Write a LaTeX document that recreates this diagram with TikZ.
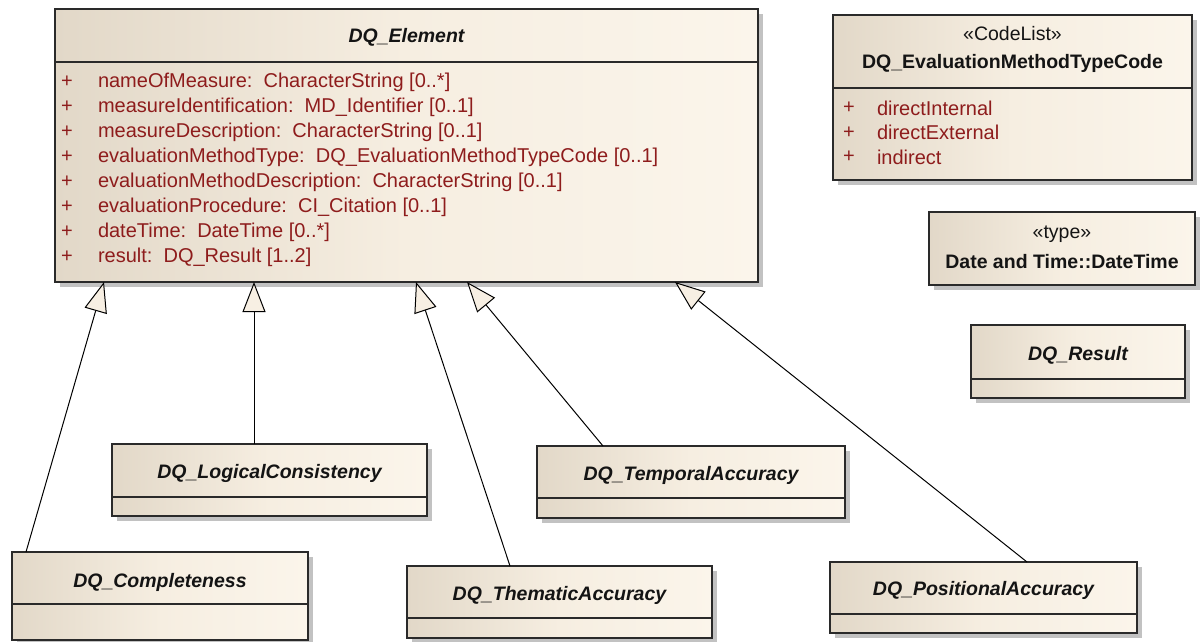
\documentclass[tikz,border=0pt]{standalone}
\usepackage{fontspec}
\setmainfont{Liberation Sans}
\usetikzlibrary{arrows.meta,shadows,calc}
\definecolor{boxline}{HTML}{2A2A2A}
\definecolor{attrred}{HTML}{8E1C1C}
\definecolor{fillL}{HTML}{E2D8C8}
\definecolor{fillM}{HTML}{F6EEE1}
\definecolor{fillR}{HTML}{FBF5EB}
\definecolor{tipfill}{HTML}{F7EFE3}
\definecolor{titlec}{HTML}{141414}
\begin{document}
\begin{tikzpicture}[x=1pt,y=-1pt,
  every node/.style={font=\fontsize{19.5}{23}\selectfont, inner sep=0pt, outer sep=0pt},
  classbox/.style={draw=boxline, line width=1.1pt, anchor=north west,
    left color=fillL, right color=fillR, middle color=fillM,
    drop shadow={shadow xshift=5pt, shadow yshift=-5pt, fill=black!40, opacity=0.6}},
  sepline/.style={draw=boxline, line width=1.1pt},
  abstitle/.style={text=titlec, font=\fontsize{19.5}{23}\selectfont\bfseries\itshape},
  plaintitle/.style={text=titlec, font=\fontsize{19.5}{23}\selectfont\bfseries},
  stereo/.style={text=titlec},
  plus/.style={text=attrred, font=\fontsize{20}{24}\selectfont},
  attr/.style={text=attrred, anchor=west, font=\fontsize{20}{24}\selectfont},
  gen/.style={draw=black, line width=1pt,
    -{Triangle[length=30pt,width=23pt,fill=tipfill]}}
]
\useasboundingbox (0,0) rectangle (1203,642);

% ---------- DQ_Element ----------
\node[classbox, minimum width=703pt, minimum height=273pt] (elem) at (55,9) {};
\draw[sepline] ($(elem.north west)+(0,53)$) -- ($(elem.north east)+(0,53)$);
\node[abstitle] (elemT) at (406.5,37) {DQ\_Element};
\foreach \i/\txt in {0/{nameOfMeasure:\ \ CharacterString [0..*]},
                     1/{measureIdentification:\ \ MD\_Identifier [0..1]},
                     2/{measureDescription:\ \ CharacterString [0..1]},
                     3/{evaluationMethodType:\ \ DQ\_EvaluationMethodTypeCode [0..1]},
                     4/{evaluationMethodDescription:\ \ CharacterString [0..1]},
                     5/{evaluationProcedure:\ \ CI\_Citation [0..1]},
                     6/{dateTime:\ \ DateTime [0..*]},
                     7/{result:\ \ DQ\_Result [1..2]}}{
  \node[plus] (elemP\i) at (67,82+25*\i) {+};
  \node[attr] (elemA\i) at (98,82+25*\i) {\txt};
}

% ---------- DQ_EvaluationMethodTypeCode ----------
\node[classbox, minimum width=359pt, minimum height=165pt] (code) at (833,15) {};
\draw[sepline] ($(code.north west)+(0,73)$) -- ($(code.north east)+(0,73)$);
\node[stereo] (codeS) at (1012.5,34) {«CodeList»};
\node[plaintitle] (codeT) at (1012.5,63) {DQ\_EvaluationMethodTypeCode};
\foreach \i/\txt in {0/directInternal, 1/directExternal, 2/indirect}{
  \node[plus] (codeP\i) at (849,108+24.5*\i) {+};
  \node[attr] (codeA\i) at (877,108+24.5*\i) {\txt};
}

% ---------- Date and Time::DateTime ----------
\node[classbox, minimum width=266pt, minimum height=73pt] (dt) at (929,212) {};
\node[stereo] (dtS) at (1062,234) {«type»};
\node[plaintitle] (dtT) at (1062,262) {Date and Time::DateTime};

% ---------- DQ_Result ----------
\node[classbox, minimum width=214pt, minimum height=73pt] (res) at (971,325) {};
\draw[sepline] ($(res.north west)+(0,54)$) -- ($(res.north east)+(0,54)$);
\node[abstitle] (resT) at (1078,355) {DQ\_Result};

% ---------- subclasses ----------
\node[classbox, minimum width=315pt, minimum height=72pt] (logic) at (112,444) {};
\draw[sepline] ($(logic.north west)+(0,53)$) -- ($(logic.north east)+(0,53)$);
\node[abstitle] (logicT) at (269.5,473) {DQ\_LogicalConsistency};

\node[classbox, minimum width=296pt, minimum height=88pt] (comp) at (12,552) {};
\draw[sepline] ($(comp.north west)+(0,52)$) -- ($(comp.north east)+(0,52)$);
\node[abstitle] (compT) at (160,582) {DQ\_Completeness};

\node[classbox, minimum width=308pt, minimum height=72pt] (temp) at (537,446) {};
\draw[sepline] ($(temp.north west)+(0,52)$) -- ($(temp.north east)+(0,52)$);
\node[abstitle] (tempT) at (691,475) {DQ\_TemporalAccuracy};

\node[classbox, minimum width=305pt, minimum height=72pt] (them) at (407,566) {};
\draw[sepline] ($(them.north west)+(0,52)$) -- ($(them.north east)+(0,52)$);
\node[abstitle] (themT) at (559.5,595) {DQ\_ThematicAccuracy};

\node[classbox, minimum width=307pt, minimum height=71pt] (pos) at (830,562) {};
\draw[sepline] ($(pos.north west)+(0,52)$) -- ($(pos.north east)+(0,52)$);
\node[abstitle] (posT) at (983.5,590) {DQ\_PositionalAccuracy};

% ---------- generalisations ----------
\coordinate (tipComp)  at ($(elem.south west)+(49,0)$);
\coordinate (tipLogic) at ($(elem.south west)+(199,0)$);
\coordinate (tipThem)  at ($(elem.south west)+(361,0)$);
\coordinate (tipTemp)  at ($(elem.south west)+(412,0)$);
\coordinate (tipPos)   at ($(elem.south west)+(620,0)$);
\coordinate (topComp)  at ($(comp.north west)+(14,0)$);
\coordinate (topLogic) at ($(logic.north west)+(142,0)$);
\coordinate (topThem)  at ($(them.north west)+(103,0)$);
\coordinate (topTemp)  at ($(temp.north west)+(66,0)$);
\coordinate (topPos)   at ($(pos.north west)+(197,0)$);
\draw[gen] (topComp)  -- (tipComp);
\draw[gen] (topLogic) -- (tipLogic);
\draw[gen] (topThem)  -- (tipThem);
\draw[gen] (topTemp)  -- (tipTemp);
\draw[gen] (topPos)   -- (tipPos);
\end{tikzpicture}
\end{document}
